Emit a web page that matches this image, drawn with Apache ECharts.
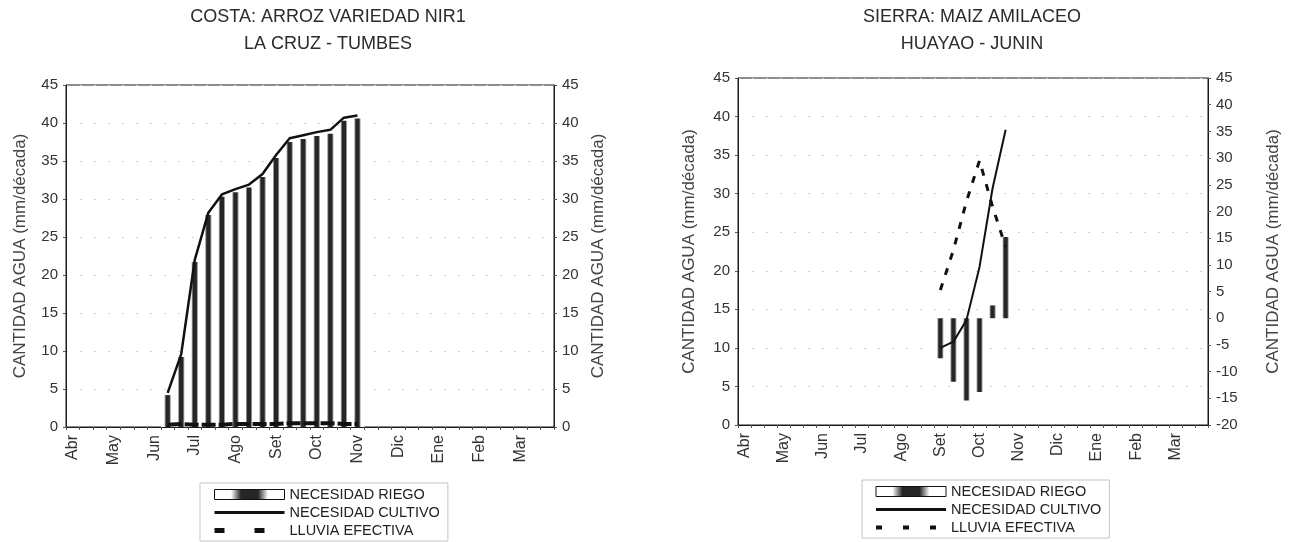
<!DOCTYPE html>
<html>
<head>
<meta charset="utf-8">
<title>Necesidad de riego por década</title>
<script src="https://cdn.jsdelivr.net/npm/echarts@6/dist/echarts.min.js"></script>
<style>
  html, body { margin: 0; padding: 0; background: #ffffff; }
  #wrap { position: relative; width: 1292px; height: 542px; }
  #costa { position: absolute; left: 0; top: 0; width: 646px; height: 542px; }
  #sierra { position: absolute; left: 646px; top: 0; width: 646px; height: 542px; }
</style>
</head>
<body>
<div id="wrap"><div id="costa"></div><div id="sierra"></div></div>
<script>
// Campaign months (Abr..Mar); each month is split into three decades
const months = ['Abr', 'May', 'Jun', 'Jul', 'Ago', 'Set', 'Oct', 'Nov', 'Dic', 'Ene', 'Feb', 'Mar'];
const dekads = months.flatMap(m => [m + ' 1', m + ' 2', m + ' 3']);

const seriesNames = ['NECESIDAD RIEGO', 'NECESIDAD CULTIVO', 'LLUVIA EFECTIVA'];
const yAxisName = 'CANTIDAD AGUA (mm/década)';

// COSTA: Arroz variedad NIR1 - La Cruz, Tumbes (mm/década)
const costaRiego = [
  null, null, null, null, null, null, null,
  4.2, 9.2, 21.7, 27.9, 30.3, 30.9, 31.5, 32.9, 35.4, 37.5, 37.9, 38.3, 38.6, 40.3, 40.6,
  null, null, null, null, null, null, null, null, null, null, null, null, null, null
];
const costaCultivo = [
  null, null, null, null, null, null, null,
  4.5, 9.6, 22.0, 28.2, 30.6, 31.3, 31.9, 33.3, 35.8, 38.0, 38.4, 38.8, 39.1, 40.7, 41.0,
  null, null, null, null, null, null, null, null, null, null, null, null, null, null
];
const costaLluvia = [
  null, null, null, null, null, null, null,
  0.3, 0.4, 0.3, 0.3, 0.3, 0.4, 0.4, 0.4, 0.4, 0.5, 0.5, 0.5, 0.5, 0.4, 0.4,
  null, null, null, null, null, null, null, null, null, null, null, null, null, null
];

// SIERRA: Maiz amilaceo - Huayao, Junin (mm/década); riego on the secondary axis
const sierraRiego = [
  null, null, null, null, null, null, null, null, null, null, null, null, null, null, null,
  -7.5, -11.9, -15.4, -13.8, 2.4, 15.2,
  null, null, null, null, null, null, null, null, null, null, null, null, null, null, null
];
const sierraCultivo = [
  null, null, null, null, null, null, null, null, null, null, null, null, null, null, null,
  10.0, 10.8, 13.6, 20.5, 30.7, 38.3,
  null, null, null, null, null, null, null, null, null, null, null, null, null, null, null
];
const sierraLluvia = [
  null, null, null, null, null, null, null, null, null, null, null, null, null, null, null,
  17.5, 22.7, 29.0, 34.3, 28.3, 23.1,
  null, null, null, null, null, null, null, null, null, null, null, null, null, null, null
];

const FONT = '"Liberation Sans", Arial, sans-serif';
const INK = '#1a1a1a';

// Bars: white edges shading to a dark centre stripe
const riegoFill = new echarts.graphic.LinearGradient(0, 0, 1, 0, [
  { offset: 0, color: '#ffffff' },
  { offset: 0.24, color: '#ffffff' },
  { offset: 0.38, color: '#262626' },
  { offset: 0.62, color: '#262626' },
  { offset: 0.76, color: '#ffffff' },
  { offset: 1, color: '#ffffff' }
]);

function valueAxis(opts) {
  return Object.assign({
    type: 'value',
    interval: 5,
    name: yAxisName,
    nameLocation: 'middle',
    nameRotate: 90,
    nameTextStyle: { fontFamily: FONT, fontSize: 17, color: '#444' },
    axisLine: { show: true, lineStyle: { color: INK, width: 1 } },
    axisTick: { show: true, length: 3, lineStyle: { color: '#555' } },
    axisLabel: { fontFamily: FONT, fontSize: 15, color: '#333', margin: 8 },
    splitLine: { show: false }
  }, opts);
}

function buildOption(cfg) {
  return {
    animation: false,
    backgroundColor: '#ffffff',
    title: {
      text: cfg.title,
      left: cfg.titleX,
      top: 4,
      padding: 0,
      textAlign: 'center',
      textStyle: { fontFamily: FONT, fontSize: 18, fontWeight: 'normal', color: '#2b2b2b', lineHeight: 27 }
    },
    grid: {
      left: cfg.grid.left, top: cfg.grid.top, width: cfg.grid.width, height: cfg.grid.height,
      show: true, borderColor: INK, borderWidth: 1, backgroundColor: 'transparent'
    },
    legend: {
      orient: 'vertical',
      left: cfg.legend.left,
      top: cfg.legend.top,
      height: 80,
      itemWidth: 70,
      itemHeight: 10,
      itemGap: 3,
      selectedMode: false,
      borderColor: '#c4c4c4',
      borderWidth: 1,
      padding: [4, 8, 3, 12],
      textStyle: { fontFamily: FONT, fontSize: 14.5, color: '#222' },
      data: [
        { name: seriesNames[0], icon: 'rect', itemStyle: { borderColor: '#111', borderWidth: 1 } },
        { name: seriesNames[1], itemStyle: { opacity: 0 }, lineStyle: { width: 3 } },
        {
          name: seriesNames[2],
          itemStyle: { opacity: 0 },
          lineStyle: { type: cfg.legend.dash, width: cfg.legend.dashWidth }
        }
      ]
    },
    xAxis: {
      type: 'category',
      data: dekads,
      boundaryGap: true,
      axisLine: { show: true, lineStyle: { color: INK, width: 1 } },
      axisTick: { show: true, interval: 0, length: 3, lineStyle: { color: '#555' } },
      axisLabel: {
        interval: 2,
        rotate: 90,
        margin: 8,
        fontFamily: FONT,
        fontSize: 16,
        color: '#333',
        formatter: v => v.split(' ')[0]
      },
      splitLine: { show: false }
    },
    yAxis: [
      valueAxis({
        min: 0, max: 45, position: 'left', nameGap: cfg.nameGapLeft,
        splitLine: { show: true, lineStyle: { color: '#d0d0d0', width: 1, type: [2, 12] } }
      }),
      valueAxis({ min: cfg.rightMin, max: 45, position: 'right', nameGap: cfg.nameGapRight })
    ],
    series: [
      {
        name: seriesNames[0],
        type: 'bar',
        yAxisIndex: 1,
        data: cfg.riego,
        barCategoryGap: '0%',
        itemStyle: { color: riegoFill },
        z: 2
      },
      {
        name: seriesNames[1],
        type: 'line',
        yAxisIndex: 0,
        data: cfg.cultivo,
        symbol: 'none',
        connectNulls: false,
        itemStyle: { color: '#111' },
        lineStyle: { color: '#111', width: cfg.cultivoWidth },
        z: 4
      },
      {
        name: seriesNames[2],
        type: 'line',
        yAxisIndex: 0,
        data: cfg.lluvia,
        symbol: 'none',
        connectNulls: false,
        itemStyle: { color: '#111' },
        lineStyle: { color: '#111', width: cfg.lluviaWidth, type: cfg.lluviaDash },
        z: 3
      }
    ]
  };
}

const costa = echarts.init(document.getElementById('costa'), null, { renderer: 'canvas' });
costa.setOption(buildOption({
  title: 'COSTA: ARROZ VARIEDAD NIR1\nLA CRUZ - TUMBES',
  titleX: 328,
  grid: { left: 66, top: 85, width: 488, height: 342 },
  legend: { left: 200, top: 483, dash: [10, 30], dashWidth: 5 },
  nameGapLeft: 37,
  nameGapRight: 36,
  rightMin: 0,
  riego: costaRiego,
  cultivo: costaCultivo,
  lluvia: costaLluvia,
  cultivoWidth: 2.5,
  lluviaWidth: 4,
  lluviaDash: [14, 3]
}));

const sierra = echarts.init(document.getElementById('sierra'), null, { renderer: 'canvas' });
sierra.setOption(buildOption({
  title: 'SIERRA: MAIZ AMILACEO\nHUAYAO - JUNIN',
  titleX: 326,
  grid: { left: 92, top: 78, width: 470, height: 347 },
  legend: { left: 216, top: 480, dash: [6, 21], dashWidth: 4 },
  nameGapLeft: 40,
  nameGapRight: 57,
  rightMin: -20,
  riego: sierraRiego,
  cultivo: sierraCultivo,
  lluvia: sierraLluvia,
  cultivoWidth: 2,
  lluviaWidth: 3,
  lluviaDash: [7, 9]
}));
</script>
</body>
</html>
